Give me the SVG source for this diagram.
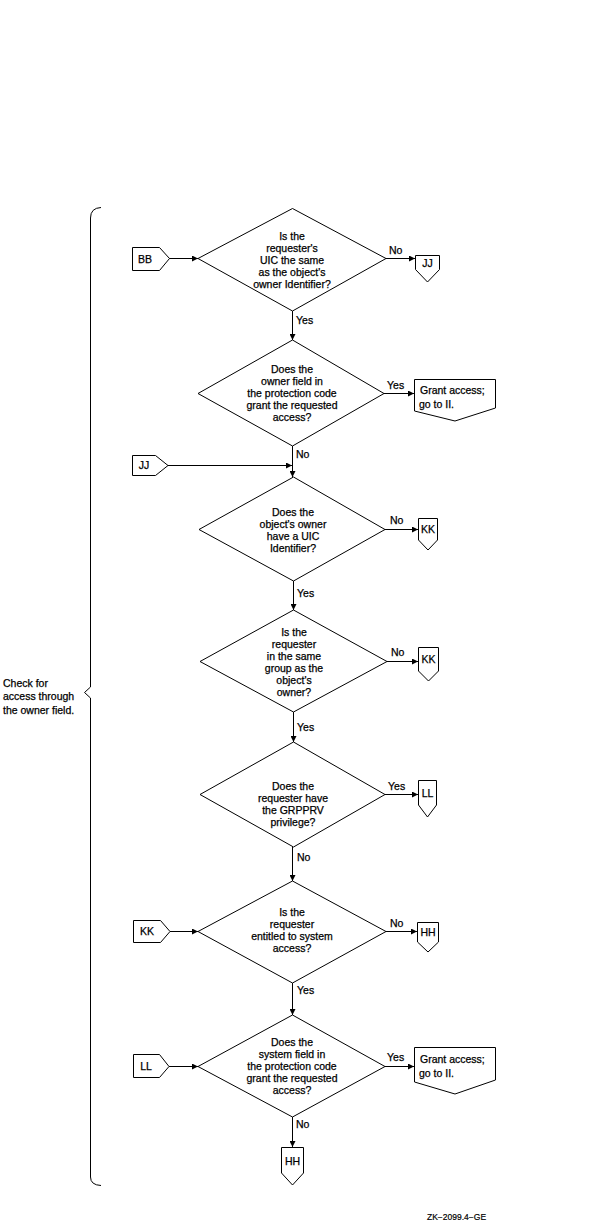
<svg xmlns="http://www.w3.org/2000/svg" width="594" height="1223" viewBox="0 0 594 1223">
<style>
.s{fill:#fff;stroke:#000;stroke-width:1}
.c{fill:none;stroke:#000;stroke-width:1}
text{font-family:"Liberation Sans",Arial,sans-serif;font-size:10.5px;fill:#000;stroke:#000;stroke-width:0.25}
.m{text-anchor:middle}
</style>
<defs>
<marker id="ah" markerUnits="userSpaceOnUse" markerWidth="7" markerHeight="6" refX="6" refY="3" orient="auto">
<path d="M0,0 L6,3 L0,6 Z" fill="#000"/>
</marker>
</defs>
<rect width="594" height="1223" fill="#fff"/>
<g id="connectors">
<path class="c" d="M169,258.5 H198" marker-end="url(#ah)"/>
<path class="c" d="M386,258.5 H415" marker-end="url(#ah)"/>
<path class="c" d="M292.5,311 V340" marker-end="url(#ah)"/>
<path class="c" d="M384,393.5 H414" marker-end="url(#ah)"/>
<path class="c" d="M292.5,446 V477" marker-end="url(#ah)"/>
<path class="c" d="M168,465.5 H292" marker-end="url(#ah)"/>
<path class="c" d="M385,529.5 H418" marker-end="url(#ah)"/>
<path class="c" d="M293.5,581 V610" marker-end="url(#ah)"/>
<path class="c" d="M387,661.5 H418" marker-end="url(#ah)"/>
<path class="c" d="M293.5,712 V742" marker-end="url(#ah)"/>
<path class="c" d="M385,794.5 H418" marker-end="url(#ah)"/>
<path class="c" d="M292.5,847 V881" marker-end="url(#ah)"/>
<path class="c" d="M170,931.5 H198" marker-end="url(#ah)"/>
<path class="c" d="M386,931.5 H417" marker-end="url(#ah)"/>
<path class="c" d="M292.5,983 V1015" marker-end="url(#ah)"/>
<path class="c" d="M169,1066.5 H198" marker-end="url(#ah)"/>
<path class="c" d="M385,1066.5 H414" marker-end="url(#ah)"/>
<path class="c" d="M292.5,1117 V1147" marker-end="url(#ah)"/>
<text x="389" y="254">No</text>
<text x="296" y="324">Yes</text>
<text x="387" y="389">Yes</text>
<text x="296" y="458">No</text>
<text x="390" y="524">No</text>
<text x="297" y="597">Yes</text>
<text x="391" y="656">No</text>
<text x="297" y="731">Yes</text>
<text x="388" y="790">Yes</text>
<text x="297" y="861">No</text>
<text x="390" y="927">No</text>
<text x="297" y="994">Yes</text>
<text x="387" y="1061">Yes</text>
<text x="296" y="1128">No</text>
</g>
<g id="brace">
<path class="c" d="M101,207.5 Q90.5,208 90.5,218 V687 L84.5,692.5 L90.5,698 V1177 Q90.5,1185 101,1185.5"/>
<text x="3" y="687">Check for</text>
<text x="3" y="700">access through</text>
<text x="3" y="714">the owner field.</text>
</g>
<g id="BB">
<polygon class="s" points="132.5,247.5 159.5,247.5 169.5,258.5 159.5,270.5 132.5,270.5"/>
<text class="m" x="145" y="263">BB</text>
</g>
<g id="D1">
<polygon class="s" points="292.5,208.5 386,258.5 292.5,311 198,258.5"/>
<text class="m" x="292" y="240">Is the</text>
<text class="m" x="292" y="252">requester's</text>
<text class="m" x="292" y="264">UIC the same</text>
<text class="m" x="292" y="276">as the object's</text>
<text class="m" x="292" y="288">owner Identifier?</text>
</g>
<g id="JJ1">
<polygon class="s" points="415.5,255.5 439.5,255.5 439.5,269.5 427.5,282 415.5,269.5"/>
<text class="m" x="427.5" y="267">JJ</text>
</g>
<g id="D2">
<polygon class="s" points="292.5,340 384,393.5 292.5,446 198,393.5"/>
<text class="m" x="292" y="373">Does the</text>
<text class="m" x="292" y="385">owner field in</text>
<text class="m" x="292" y="397">the protection code</text>
<text class="m" x="292" y="409">grant the requested</text>
<text class="m" x="292" y="421">access?</text>
</g>
<g id="Grant1">
<polygon class="s" points="414.5,379.5 495.5,379.5 495.5,408 455,421 414.5,411"/>
<text x="420" y="394">Grant access;</text>
<text x="419" y="408">go to  II.</text>
</g>
<g id="JJ2">
<polygon class="s" points="132.5,455.5 155.5,455.5 168,465.5 155.5,475.5 132.5,475.5"/>
<text class="m" x="144" y="469">JJ</text>
</g>
<g id="D3">
<polygon class="s" points="293.5,477 385,529.5 293.5,581 199,529.5"/>
<text class="m" x="293" y="516">Does the</text>
<text class="m" x="293" y="528">object's owner</text>
<text class="m" x="293" y="540">have a UIC</text>
<text class="m" x="293" y="552">Identifier?</text>
</g>
<g id="KK1">
<polygon class="s" points="418.5,518.5 437.5,518.5 437.5,540 428,550 418.5,540"/>
<text class="m" x="428" y="533">KK</text>
</g>
<g id="D4">
<polygon class="s" points="293.5,610 387,661.5 293.5,712 200,661.5"/>
<text class="m" x="294" y="636">Is the</text>
<text class="m" x="294" y="648">requester</text>
<text class="m" x="294" y="660">in the same</text>
<text class="m" x="294" y="672">group as the</text>
<text class="m" x="294" y="684">object's</text>
<text class="m" x="294" y="696">owner?</text>
</g>
<g id="KK2">
<polygon class="s" points="418.5,647.5 438.5,647.5 438.5,671 428.5,681 418.5,671"/>
<text class="m" x="428.5" y="663">KK</text>
</g>
<g id="D5">
<polygon class="s" points="293.5,742 385,794.5 293.5,847 200,794.5"/>
<text class="m" x="293" y="790">Does the</text>
<text class="m" x="293" y="802">requester have</text>
<text class="m" x="293" y="814">the GRPPRV</text>
<text class="m" x="293" y="826">privilege?</text>
</g>
<g id="LL1">
<polygon class="s" points="418.5,780.5 436.5,780.5 436.5,805 427.5,817 418.5,805"/>
<text class="m" x="427.5" y="797">LL</text>
</g>
<g id="KK3">
<polygon class="s" points="133.5,920.5 160.5,920.5 170,931.5 160.5,942.5 133.5,942.5"/>
<text class="m" x="147" y="935">KK</text>
</g>
<g id="D6">
<polygon class="s" points="292.5,881 386,931.5 292.5,983 198,931.5"/>
<text class="m" x="292" y="916">Is the</text>
<text class="m" x="292" y="928">requester</text>
<text class="m" x="292" y="940">entitled to system</text>
<text class="m" x="292" y="952">access?</text>
</g>
<g id="HH1">
<polygon class="s" points="417.5,922.5 438.5,922.5 438.5,942 428,952 417.5,942"/>
<text class="m" x="428" y="936">HH</text>
</g>
<g id="LL2">
<polygon class="s" points="133.5,1054.5 159.5,1054.5 169,1066.5 159.5,1077.5 133.5,1077.5"/>
<text class="m" x="146" y="1070">LL</text>
</g>
<g id="D7">
<polygon class="s" points="292.5,1015 385,1066.5 292.5,1117 198,1066.5"/>
<text class="m" x="292" y="1046">Does the</text>
<text class="m" x="292" y="1058">system field in</text>
<text class="m" x="292" y="1070">the protection code</text>
<text class="m" x="292" y="1082">grant the requested</text>
<text class="m" x="292" y="1094">access?</text>
</g>
<g id="Grant2">
<polygon class="s" points="414.5,1047.5 495.5,1047.5 495.5,1080 455,1094 414.5,1082"/>
<text x="420" y="1063">Grant access;</text>
<text x="419" y="1077">go to II.</text>
</g>
<g id="HH2">
<polygon class="s" points="281.5,1147.5 303.5,1147.5 303.5,1173 292.5,1185 281.5,1173"/>
<text class="m" x="292.5" y="1165">HH</text>
</g>
<text x="427" y="1220" style="font-size:8.5px;stroke-width:0.2">ZK−2099.4−GE</text>
</svg>
